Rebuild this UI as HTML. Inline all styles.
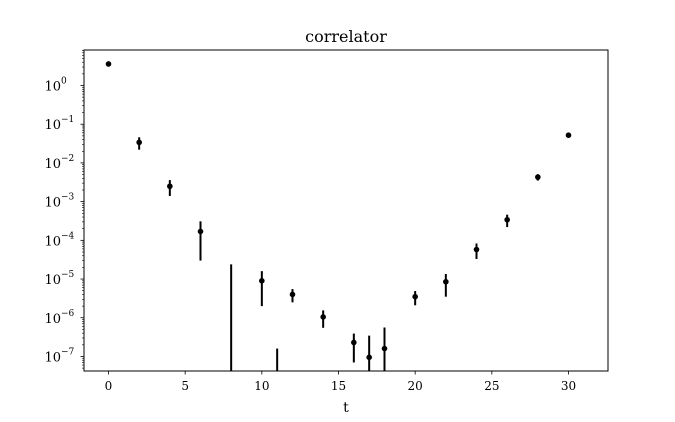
<!DOCTYPE html>
<html><head><meta charset="utf-8"><style>
body{margin:0;background:#fff}
svg text{font-family:"DejaVu Serif","Liberation Serif",serif;fill:#000}
</style></head><body>
<svg id="c" width="675" height="417" xmlns="http://www.w3.org/2000/svg">
<rect width="675" height="417" fill="#fff"/>
<text x="346" y="42" font-size="16" text-anchor="middle">correlator</text>
<text x="346" y="412" font-size="14" text-anchor="middle">t</text>
<defs><clipPath id="pc"><rect x="84" y="50" width="524" height="321"/></clipPath></defs>
<g id="marks" clip-path="url(#pc)"></g>
<g id="axes"></g>
<rect x="84" y="50" width="524" height="321" fill="none" stroke="#000" stroke-width="1"/>
</svg>
<script>
const ts=[0,2,4,6,8,10,11,12,14,16,17,18,20,22,24,26,28,30];
const vals=[3.6,0.034,0.0025,1.7e-4,-1e-5,9e-6,-1e-7,4e-6,1.05e-6,2.3e-7,9.5e-8,1.6e-7,3.5e-6,8.5e-6,5.8e-5,3.4e-4,4.3e-3,0.052];
const errs=[0.1,0.012,0.0011,1.4e-4,3.4e-5,7e-6,2.6e-7,1.5e-6,5e-7,1.6e-7,2.5e-7,4e-7,1.4e-6,5e-6,2.5e-5,1.2e-4,8e-4,7e-3];
const xTicks=[0,5,10,15,20,25,30];
const yTickExps=[0,-1,-2,-3,-4,-5,-6,-7];
const NS="http://www.w3.org/2000/svg";
const X=t=>108.5+t*(460/30);
const Y=v=>85.5-Math.log10(v)*38.71;
const marks=document.getElementById('marks'),axes=document.getElementById('axes');
function mk(p,tag,a){const e=document.createElementNS(NS,tag);for(const k in a)e.setAttribute(k,a[k]);p.appendChild(e);return e;}
ts.forEach((t,i)=>{
  const v=vals[i],e=errs[i],x=X(t);
  const hi=v+e,lo=v-e;
  const y1=Y(hi),y2=lo>0?Y(lo):400;
  const l=mk(marks,'line',{x1:x,x2:x,y1:y1,y2:y2,stroke:'#000','stroke-width':2});
  
  
  if(v>0){const c=mk(marks,'circle',{cx:x,cy:Y(v),r:2.8,fill:'#000'});
    
    }
});
xTicks.forEach(t=>{
  const x=X(t);
  mk(axes,'line',{x1:x,x2:x,y1:371,y2:374.5,stroke:'#000','stroke-width':0.8});
  const tx=mk(axes,'text',{x:x,y:390,'font-size':12,'text-anchor':'middle'});tx.textContent=t;
  
  
});
for(let d=-8;d<=1;d++){for(let m=2;m<10;m++){const y=Y(m*Math.pow(10,d));if(y>50&&y<371)mk(axes,'line',{x1:82,x2:84,y1:y,y2:y,stroke:'#000','stroke-width':0.6});}}
yTickExps.forEach(p=>{
  const y=Y(Math.pow(10,p));
  mk(axes,'line',{x1:80.5,x2:84,y1:y,y2:y,stroke:'#000','stroke-width':0.8});
  const tx=mk(axes,'text',{x:61,y:y+5,'font-size':13,'text-anchor':'end'});
  tx.textContent='10';
  
  
  const s=mk(axes,'text',{x:61,y:y-2,'font-size':9,'text-anchor':'start'});s.textContent=p===0?'0':'\u2212'+(-p);
});
</script>
</body></html>
